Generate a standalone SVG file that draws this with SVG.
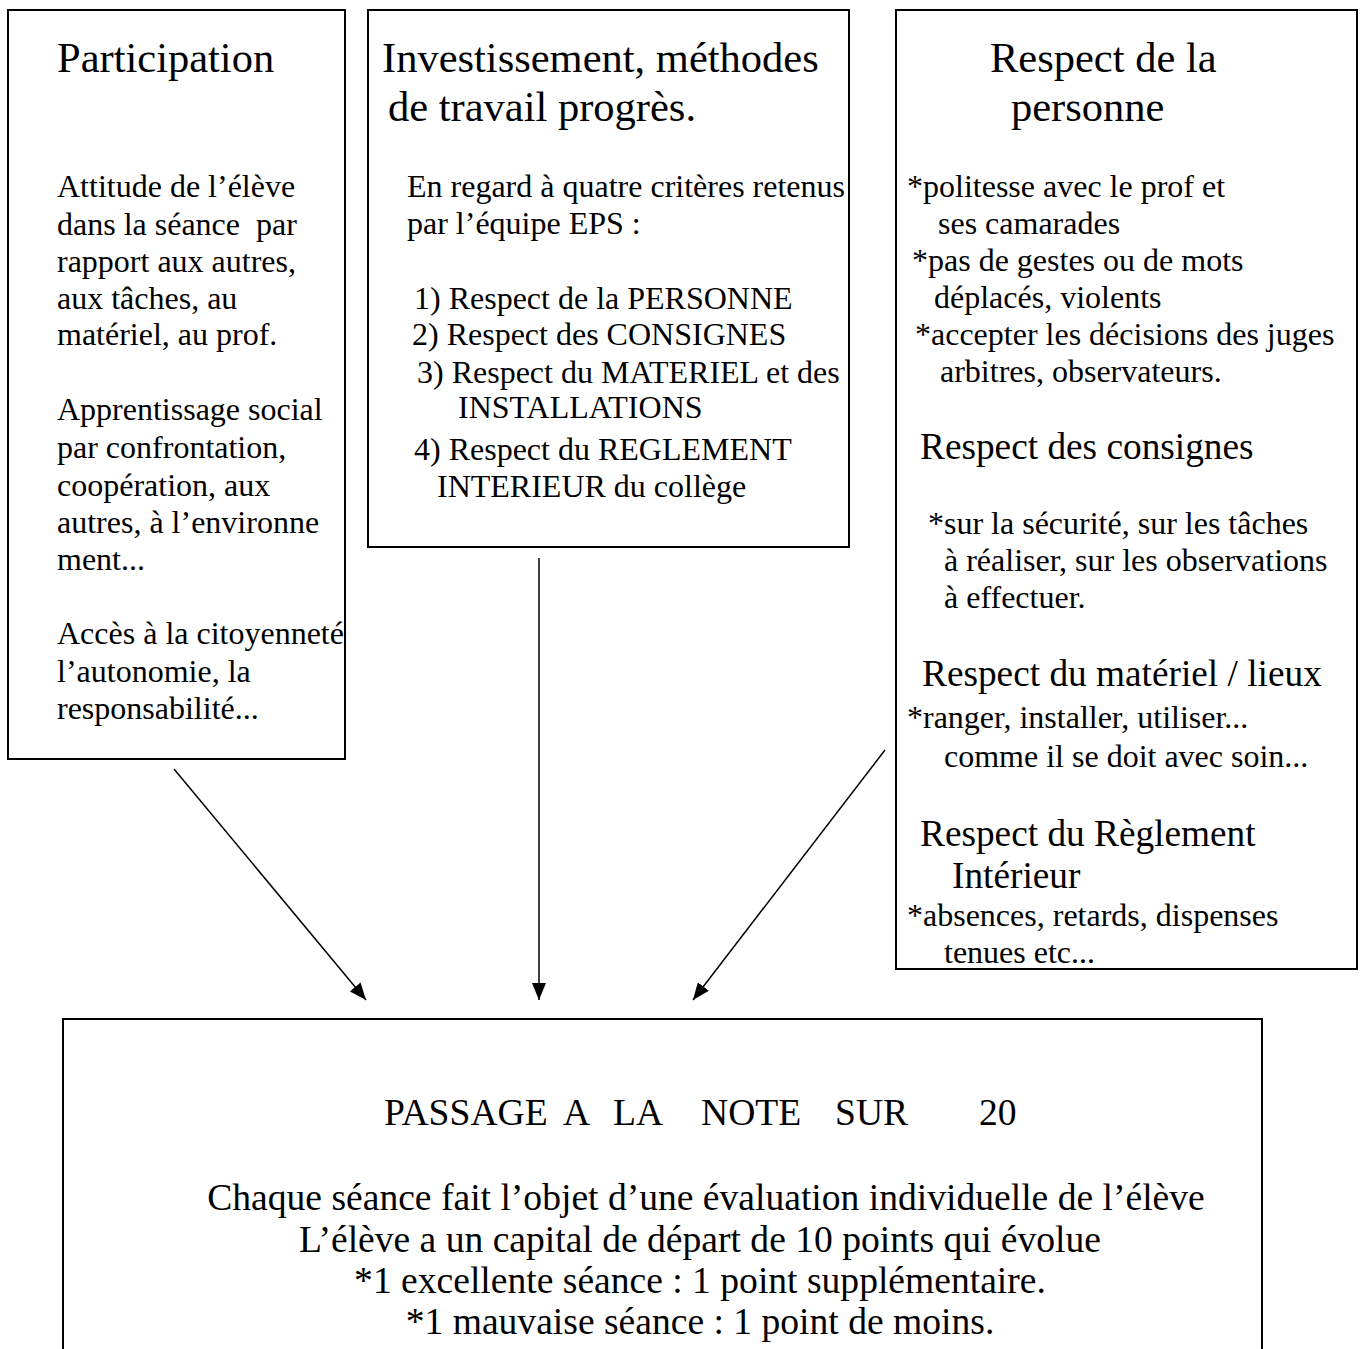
<svg xmlns="http://www.w3.org/2000/svg" width="1362" height="1349" viewBox="0 0 1362 1349">
<style>
.box{fill:#fff;stroke:#000;stroke-width:2}
text{font-family:"Liberation Serif","Times New Roman",serif;fill:#000}
.t{font-size:42.5px}
.s{font-size:37.3px}
.b{font-size:32px}
.n{font-size:37.6px}
.c{stroke:#000;stroke-width:1.5;fill:none;marker-end:url(#ah)}
</style>
<defs>
<marker id="ah" markerUnits="userSpaceOnUse" markerWidth="18" markerHeight="14" refX="17" refY="7" orient="auto">
<path d="M0,0 L17,7 L0,14 z" fill="#000"/>
</marker>
</defs>
<rect width="1362" height="1349" fill="#fff"/>
<g id="participation">
<rect class="box" x="8" y="10" width="337" height="749"/>
<text class="t" x="57" y="72">Participation</text>
<text class="b" x="57" y="197">Attitude de l’élève</text>
<text class="b" x="57" y="235" xml:space="preserve">dans la séance  par</text>
<text class="b" x="57" y="272">rapport aux autres,</text>
<text class="b" x="57" y="309">aux tâches, au</text>
<text class="b" x="57" y="345">matériel, au prof.</text>
<text class="b" x="57" y="420">Apprentissage social</text>
<text class="b" x="57" y="458">par confrontation,</text>
<text class="b" x="57" y="496">coopération, aux</text>
<text class="b" x="57" y="533">autres, à l’environne</text>
<text class="b" x="57" y="570">ment...</text>
<text class="b" x="57" y="644">Accès à la citoyenneté</text>
<text class="b" x="57" y="682">l’autonomie, la</text>
<text class="b" x="57" y="719">responsabilité...</text>
</g>
<g id="investissement">
<rect class="box" x="368" y="10" width="481" height="537"/>
<text class="t" x="382" y="72">Investissement, méthodes</text>
<text class="t" x="388" y="121">de travail progrès.</text>
<text class="b" x="407" y="197">En regard à quatre critères retenus</text>
<text class="b" x="407" y="234">par l’équipe EPS :</text>
<text class="b" x="414" y="309">1) Respect de la PERSONNE</text>
<text class="b" x="412" y="345">2) Respect des CONSIGNES</text>
<text class="b" x="417" y="383">3) Respect du MATERIEL et des</text>
<text class="b" x="458" y="418">INSTALLATIONS</text>
<text class="b" x="414" y="460">4) Respect du REGLEMENT</text>
<text class="b" x="437" y="497">INTERIEUR du collège</text>
</g>
<g id="respect">
<rect class="box" x="896" y="10" width="461" height="959"/>
<text class="t" x="990" y="72">Respect de la</text>
<text class="t" x="1011" y="121">personne</text>
<text class="b" x="907" y="197">*politesse avec le prof et</text>
<text class="b" x="938" y="234">ses camarades</text>
<text class="b" x="912" y="271">*pas de gestes ou de mots</text>
<text class="b" x="934" y="308">déplacés, violents</text>
<text class="b" x="915" y="345">*accepter les décisions des juges</text>
<text class="b" x="940" y="382">arbitres, observateurs.</text>
<text class="s" x="920" y="459">Respect des consignes</text>
<text class="b" x="928" y="534">*sur la sécurité, sur les tâches</text>
<text class="b" x="944" y="571">à réaliser, sur les observations</text>
<text class="b" x="944" y="608">à effectuer.</text>
<text class="s" x="922" y="686">Respect du matériel / lieux</text>
<text class="b" x="907" y="728">*ranger, installer, utiliser...</text>
<text class="b" x="944" y="767">comme il se doit avec soin...</text>
<text class="s" x="920" y="846">Respect du Règlement</text>
<text class="s" x="952" y="888">Intérieur</text>
<text class="b" x="907" y="926">*absences, retards, dispenses</text>
<text class="b" x="944" y="963">tenues etc...</text>
</g>
<g id="connectors">
<line class="c" x1="174" y1="769" x2="366" y2="1000"/>
<line class="c" x1="539" y1="558" x2="539" y2="1000"/>
<line class="c" x1="885" y1="750" x2="693" y2="1000"/>
</g>
<g id="note">
<rect class="box" x="63" y="1019" width="1199" height="400"/>
<text class="n" y="1125"><tspan x="384">PASSAGE</tspan><tspan x="563">A</tspan><tspan x="613">LA</tspan><tspan x="701">NOTE</tspan><tspan x="835">SUR</tspan><tspan x="979">20</tspan></text>
<text class="n" x="706" y="1210" text-anchor="middle">Chaque séance fait l’objet d’une évaluation individuelle de l’élève</text>
<text class="n" x="700" y="1252" text-anchor="middle">L’élève a un capital de départ de 10 points qui évolue</text>
<text class="n" x="700" y="1293" text-anchor="middle">*1 excellente séance : 1 point supplémentaire.</text>
<text class="n" x="700" y="1334" text-anchor="middle">*1 mauvaise séance : 1 point de moins.</text>
</g>
</svg>
